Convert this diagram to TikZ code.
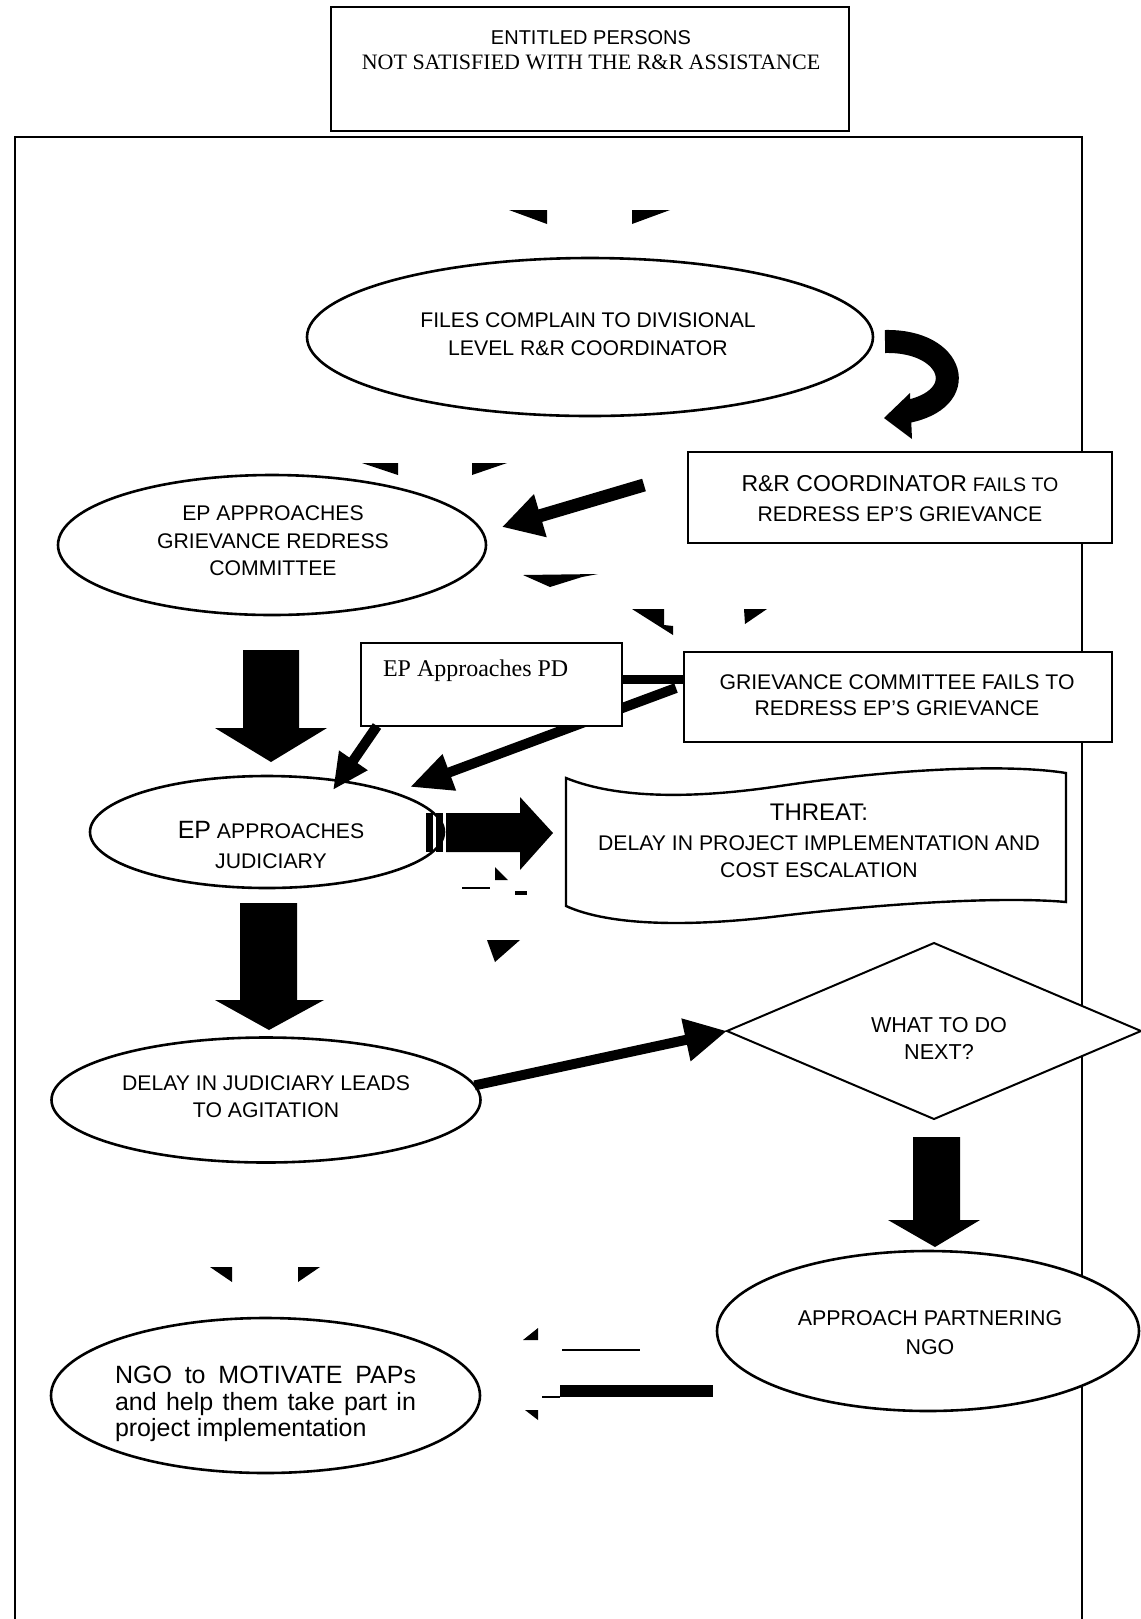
\documentclass[tikz,border=0pt]{standalone}
\usepackage{fontspec}
\setmainfont{Liberation Serif}
\setsansfont{Liberation Sans}
\usetikzlibrary{shapes.geometric,arrows.meta}

\begin{document}
\begin{tikzpicture}[x=0.5pt,y=-0.5pt,
  every node/.style={inner sep=0pt,outer sep=0pt},
  oval/.style={ellipse,draw,line width=1.3pt,fill=white},
  panel/.style={rectangle,draw,line width=1.2pt,fill=white},
  txt/.style={font=\sffamily\fontsize{10.6}{14}\selectfont,align=center},
]
% page and outer frame
\fill[white] (0,0) rectangle (1141,1619);
\useasboundingbox (0,0) rectangle (1141,1619);
\draw[line width=1pt] (15,1619) -- (15,137) -- (1082,137) -- (1082,1619);

% free ends of the straight connectors
\coordinate (rrout) at (644,485);
\coordinate (rrin)  at (502,527);
\coordinate (gcout) at (676,688);
\coordinate (gcin)  at (410,787);
\coordinate (pdout) at (377,726);
\coordinate (pdin)  at (333,790);

% ---- start box
\node[panel,line width=0.9pt,minimum width=259pt,minimum height=62pt] (ep) at (590,69) {};

% barbs of the faded arrow into the first ellipse
\fill (509,210) -- (547,210) -- (547,224) -- cycle;
\fill (632,210) -- (670,210) -- (632,224) -- cycle;

\node[oval,minimum width=283pt,minimum height=79pt] (e1) at (590,337) {};

% curved arrow to the coordinator box
\draw[line width=11.5pt] (885,341.5) .. controls (955,340) and (972,400) .. (905,412);
\fill (910,393) -- (912,439) -- (884,418) -- cycle;

% barbs of the faded arrow into the committee ellipse
\fill (362,463) -- (398,463) -- (398,475) -- cycle;
\fill (472,463) -- (507,463) -- (472,475) -- cycle;

\node[panel,minimum width=212pt,minimum height=45.5pt] (rr) at (900,497.5) {};
\node[oval,minimum width=214pt,minimum height=70pt] (e2) at (272,545) {};
\draw[line width=6.5pt,-{Triangle[length=20pt,width=21pt]}] (rrout) -- (rrin);

% remnants of the faded arrow toward the committee box
\fill (523,575) -- (598,574) -- (582,577) -- (550,587) -- cycle;
\fill (632,609) -- (664,609) -- (664,625) -- (673,626) -- (673,635) -- cycle;
\fill (744,609) -- (767,609) -- (745,624) -- cycle;

% block arrow: committee -> judiciary
\fill (243,650) -- (299,650) -- (299,728) -- (327,728) -- (271,762) -- (215,728) -- (243,728) -- cycle;

\node[panel,minimum width=214pt,minimum height=45pt] (gc) at (898,697) {};
\node[oval,minimum width=177pt,minimum height=56pt] (e5) at (267,832) {};

\draw[line width=5pt,-{Triangle[length=21pt,width=18pt]}] (gcout) -- (gcin);
\node[panel,minimum width=130.5pt,minimum height=41.5pt] (pd) at (491.5,684.5) {};
\draw[line width=4.5pt] (pd.east |- 0,679) -- (gc.west |- 0,679);
\draw[line width=5pt,-{Triangle[length=18pt,width=16pt]}] (pdout) -- (pdin);

% striped arrow: judiciary -> threat
\fill (426,813) rectangle (433,852);
\fill (436,813) rectangle (443,852);
\fill (446,813) -- (520,813) -- (520,797) -- (553,833) -- (520,870) -- (520,852) -- (446,852) -- cycle;

% threat (punched tape)
\draw[line width=1.2pt,fill=white] (566,778) .. controls (620,800) and (700,798) .. (780,786)
  .. controls (900,768) and (1010,764) .. (1066,773) -- (1066,902)
  .. controls (1000,896) and (880,904) .. (780,916)
  .. controls (690,927) and (610,926) .. (566,906) -- cycle;

% loose remnants below the striped arrow
\fill (495,867) -- (508,880) -- (495,880) -- cycle;
\fill (462,887) rectangle (490,889);
\fill (515,891) rectangle (527,895);
\fill (487,940) -- (520,940) -- (495,962) -- cycle;

% block arrow: judiciary -> agitation
\fill (240,903) -- (297,903) -- (297,1000) -- (324,1000) -- (269,1030) -- (215,1000) -- (240,1000) -- cycle;

\node[oval,minimum width=214.5pt,minimum height=62.5pt] (e6) at (266,1100) {};
\node[diamond,draw,line width=1pt,fill=white,minimum width=207pt,minimum height=88pt] (dm) at (934,1031) {};
\draw[line width=5pt,-{Triangle[length=21pt,width=20.5pt]}] (e6.4) -- (dm.west);

% block arrow: decision -> partnering NGO
\fill (913,1137) -- (960,1137) -- (960,1220) -- (980,1220) -- (935,1247) -- (888,1220) -- (913,1220) -- cycle;

\node[oval,minimum width=211pt,minimum height=80pt] (e7) at (928,1331) {};

% barbs of the faded arrow into the NGO ellipse
\fill (210,1267) -- (232,1267) -- (232,1282) -- cycle;
\fill (298,1267) -- (320,1267) -- (298,1282) -- cycle;

\node[oval,minimum width=214.5pt,minimum height=77.5pt] (e8) at (265.5,1395.5) {};

% remnants of the faded arrow from partnering NGO
\fill (538,1328) -- (538,1340) -- (523,1340) -- cycle;
\fill (525,1410) -- (538,1410) -- (538,1420) -- cycle;
\draw[line width=0.6pt] (562,1350) -- (640,1350);
\fill (560,1385) rectangle (713,1397);
\draw[line width=0.6pt] (542,1397) -- (560,1397);

% ---- texts
\node[align=center,font=\sffamily\fontsize{10}{12.5}\selectfont] (ept) at (591,50.5)
  {ENTITLED PERSONS\\{\rmfamily\fontsize{11}{12.5}\selectfont NOT SATISFIED WITH THE R\&R ASSISTANCE}};
\node[txt] (e1t) at (588,334) {FILES COMPLAIN TO DIVISIONAL\\LEVEL R\&R COORDINATOR};
\node[txt,font=\sffamily\fontsize{10.6}{15}\selectfont] (rrt) at (900,499)
  {{\fontsize{11.5}{15}\selectfont R\&R COORDINATOR} {\fontsize{9.8}{15}\selectfont FAILS TO}\\REDRESS EP'S GRIEVANCE};
\node[txt,font=\sffamily\fontsize{10.6}{13.75}\selectfont] (e2t) at (273,541)
  {EP APPROACHES\\GRIEVANCE REDRESS\\COMMITTEE};
\node[anchor=west,font=\rmfamily\fontsize{12}{14}\selectfont] (pdt) at (383,671) {EP Approaches PD};
\node[txt,font=\sffamily\fontsize{10.6}{13}\selectfont] (gct) at (897,695)
  {GRIEVANCE COMMITTEE FAILS TO\\REDRESS EP'S GRIEVANCE};
\node[txt,font=\sffamily\fontsize{10.6}{15}\selectfont] (e5t) at (271,845)
  {{\fontsize{12.5}{15}\selectfont EP} APPROACHES\\JUDICIARY};
\node[txt,font=\sffamily\fontsize{12}{14}\selectfont] (thrt) at (819,812) {THREAT:};
\node[txt,font=\sffamily\fontsize{10.6}{13.5}\selectfont] (thrb) at (819,856.5)
  {DELAY IN PROJECT IMPLEMENTATION AND\\COST ESCALATION};
\node[txt,font=\sffamily\fontsize{10.8}{13.5}\selectfont] (dmt) at (939,1038.5) {WHAT TO DO\\NEXT?};
\node[txt,font=\sffamily\fontsize{10.6}{13.5}\selectfont] (e6t) at (266,1096.5)
  {DELAY IN JUDICIARY LEADS\\TO AGITATION};
\node[txt,font=\sffamily\fontsize{10.7}{14.5}\selectfont] (e7t) at (930,1332.5)
  {APPROACH PARTNERING\\NGO};
\node[font=\sffamily\fontsize{12.5}{13.25}\selectfont] (e8t) at (265.5,1404)
  {\parbox{150.5pt}{\hbadness=10000 NGO to MOTIVATE PAPs\linebreak and help them take part in\linebreak project implementation}};
\end{tikzpicture}
\end{document}
